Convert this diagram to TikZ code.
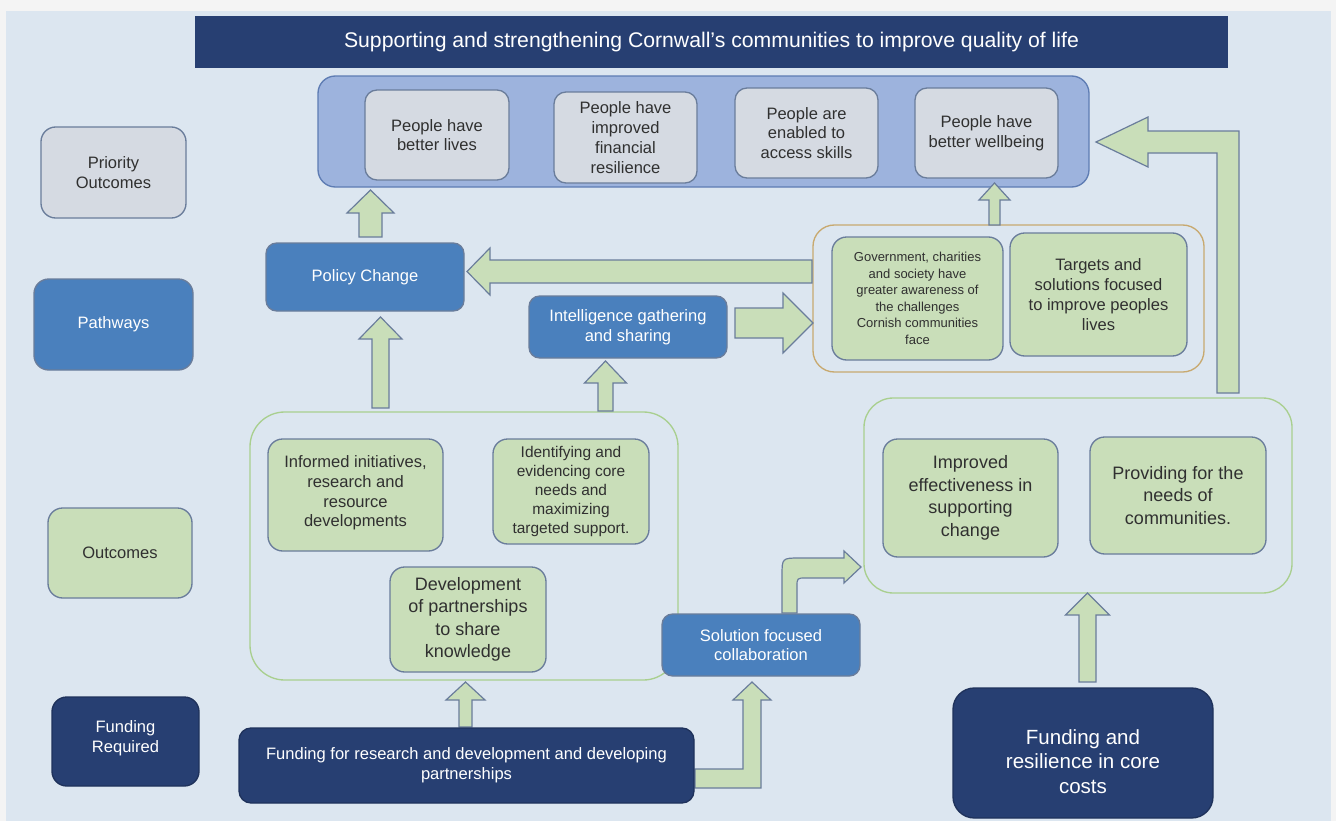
\documentclass[tikz,border=0pt]{standalone}
\usepackage{fontspec}
\setmainfont{Liberation Sans}
\definecolor{bgout}{HTML}{F4F4F4}
\definecolor{bgin}{HTML}{DCE6F0}
\definecolor{navy}{HTML}{273F72}
\definecolor{midblue}{HTML}{4A80BD}
\definecolor{prio}{HTML}{9DB3DD}
\definecolor{prioedge}{HTML}{5E7CB3}
\definecolor{grayfill}{HTML}{D5DAE2}
\definecolor{edgec}{HTML}{6A7D9B}
\definecolor{greenfill}{HTML}{C9DEB9}
\definecolor{greenedge}{HTML}{A9CF8F}
\definecolor{tanedge}{HTML}{C8A96F}
\definecolor{txt}{HTML}{303030}
\tikzset{
  bx/.style={inner sep=0pt, align=center, line width=1pt, rounded corners=#1},
  graybox/.style={bx=9pt, fill=grayfill, draw=edgec, text=txt},
  greenbox/.style={bx=11pt, fill=greenfill, draw=edgec, text=txt},
  bluebox/.style={bx=8pt, fill=midblue, draw=edgec, text=white},
  navybox/.style={bx=9pt, fill=navy, draw=navy!80!black, text=white},
  holder/.style={inner sep=0pt, line width=1pt, rounded corners=#1},
  inlabel/.style={inner sep=0pt, align=center},
  barrow/.style={fill=greenfill, draw=edgec, line width=0.9pt, line join=miter},
  fA/.style={font=\fontsize{12.4}{14.8}\selectfont},
  fS/.style={font=\fontsize{9.75}{12.4}\selectfont},
  fM/.style={font=\fontsize{11.6}{14.3}\selectfont},
  fL/.style={font=\fontsize{13.5}{16.9}\selectfont},
  fX/.style={font=\fontsize{15.4}{18.4}\selectfont},
  fT/.style={font=\fontsize{15.9}{18}\selectfont},
}
% box node: name, x1, y1, x2, y2 (pixels), style, text
\newcommand{\bnode}[7]{%
  \node[#6, minimum width={(#4-#2)*0.75pt}, minimum height={(#5-#3)*0.75pt}]
    (#1) at ({(#2+#4)/2},{(#3+#5)/2}) {#7};}
% up block arrow: cx, ybottom, ytip, shaft half width, head half width, head length
\newcommand{\upblock}[6]{%
  \draw[barrow] (#1-#4,#2) -- (#1-#4,#3+#6) -- (#1-#5,#3+#6) -- (#1,#3)
    -- (#1+#5,#3+#6) -- (#1+#4,#3+#6) -- (#1+#4,#2) -- cycle;}
\begin{document}
\begin{tikzpicture}[x=0.75pt,y=-0.75pt]
\useasboundingbox (0,0) rectangle (1336,821);
\fill[bgout] (0,0) rectangle (1336,821);
\fill[bgin] (6,11) rectangle (1331,821);

% title
\bnode{title}{195}{16}{1228}{68}{inner sep=0pt, fill=navy, text=white, fT}
  {Supporting and strengthening Cornwall's communities to improve quality of life}

% containers
\bnode{prioC}{318}{76}{1089}{187}{holder=13pt, fill=prio, draw=prioedge}{}
\bnode{tanC}{813}{225}{1204}{372}{holder=16pt, draw=tanedge}{}
\bnode{leftC}{250}{412}{678}{680}{holder=26pt, draw=greenedge}{}
\bnode{rightC}{864}{398}{1292}{593}{holder=22pt, draw=greenedge}{}

% block arrows
\upblock{370.5}{237}{190}{11.5}{23.5}{23}
\upblock{380.5}{408}{317}{8.5}{21.5}{22}
\upblock{605.5}{411}{361}{7.5}{21}{22}
\upblock{994.5}{225}{183}{5.5}{15.5}{17}
\upblock{465.5}{727}{682}{6.5}{19.5}{18}
\upblock{1087.5}{682}{593}{8.5}{22}{22}
% tan container -> policy change
\draw[barrow] (812,260) -- (490,260) -- (490,248) -- (467,271.5) -- (490,295)
  -- (490,283) -- (812,283) -- cycle;
% intelligence -> tan container
\draw[barrow] (735,308) -- (783,308) -- (783,293) -- (813,323) -- (783,353)
  -- (783,338) -- (735,338) -- cycle;
% right container -> priority outcomes (elbow)
\draw[barrow] (1217,393) -- (1217,153) -- (1148,153) -- (1148,167) -- (1096,142)
  -- (1148,117) -- (1148,131) -- (1239,131) -- (1239,393) -- cycle;
% funding research -> solution focused (elbow)
\draw[barrow] (695,769) -- (743,769) -- (743,700) -- (733,700) -- (752,682)
  -- (771,700) -- (761,700) -- (761,788) -- (695,788) -- cycle;
% solution focused -> right container (rounded elbow)
\draw[barrow] (782,613) -- (782,576) .. controls (782,558) .. (800,558) -- (844,558)
  -- (844,551) -- (861,567) -- (844,583) -- (844,578) -- (806,578)
  .. controls (797,578) .. (797,587) -- (797,613) -- cycle;

% left labels
\bnode{labPrio}{41}{127}{186}{218}{graybox, bx=11pt, fA}{Priority\\Outcomes}
\bnode{labPath}{34}{279}{193}{370}{bluebox, bx=11pt, fA}{Pathways}
\bnode{labOut}{48}{508}{192}{598}{greenbox, fA}{Outcomes}
\bnode{labFund}{52}{697}{199}{786}{navybox, bx=11pt}{}
\node[inlabel, text=white, fA] (labFundT) at ([yshift=2.3pt]labFund.center) {Funding\\Required};

% priority outcomes
\bnode{lives}{365}{90}{509}{180}{graybox, fA}{People have\\better lives}
\bnode{fin}{554}{92}{697}{183}{graybox, fA}{People have\\improved\\financial\\resilience}
\bnode{skills}{735}{88}{878}{178}{graybox, fA}{People are\\enabled to\\access skills}
\bnode{well}{915}{88}{1058}{178}{graybox, fA}{People have\\better wellbeing}

% pathways
\bnode{policy}{266}{243}{464}{311}{bluebox, fA}{Policy Change}
\bnode{intel}{529}{296}{727}{358}{bluebox, fA}{Intelligence gathering\\and sharing}
\bnode{sol}{662}{614}{860}{676}{bluebox, fA}{Solution focused\\collaboration}

% awareness outcomes
\bnode{gov}{832}{237}{1003}{360}{greenbox, fS}{Government, charities\\and society have\\greater awareness of\\the challenges\\Cornish communities\\face}
\bnode{targets}{1010}{233}{1187}{356}{greenbox, fA}{Targets and\\solutions focused\\to improve peoples\\lives}

% left outcomes
\bnode{informed}{268}{439}{443}{551}{greenbox}{}
\node[inlabel, text=txt, fA] (informedT) at ([yshift=1.5pt]informed.center) {Informed initiatives,\\research and\\resource\\developments};
\bnode{identify}{493}{439}{649}{544}{greenbox, fM}{Identifying and\\evidencing core\\needs and\\maximizing\\targeted support.}
\bnode{develop}{390}{567}{546}{672}{greenbox, fL}{Development\\of partnerships\\to share\\knowledge}

% right outcomes
\bnode{improved}{883}{439}{1058}{557}{greenbox, fL}{Improved\\effectiveness in\\supporting\\change}
\bnode{providing}{1090}{437}{1266}{554}{greenbox, fL}{Providing for the\\needs of\\communities.}

% funding
\bnode{fundres}{239}{728}{694}{803}{navybox, fA}{Funding for research and development and developing\\partnerships}
\bnode{fundcore}{953}{688}{1213}{818}{navybox, bx=16pt}{}
\node[inlabel, text=white, fX] (fundcoreT) at ([yshift=-6.4pt]fundcore.center) {Funding and\\resilience in core\\costs};
\end{tikzpicture}
\end{document}
